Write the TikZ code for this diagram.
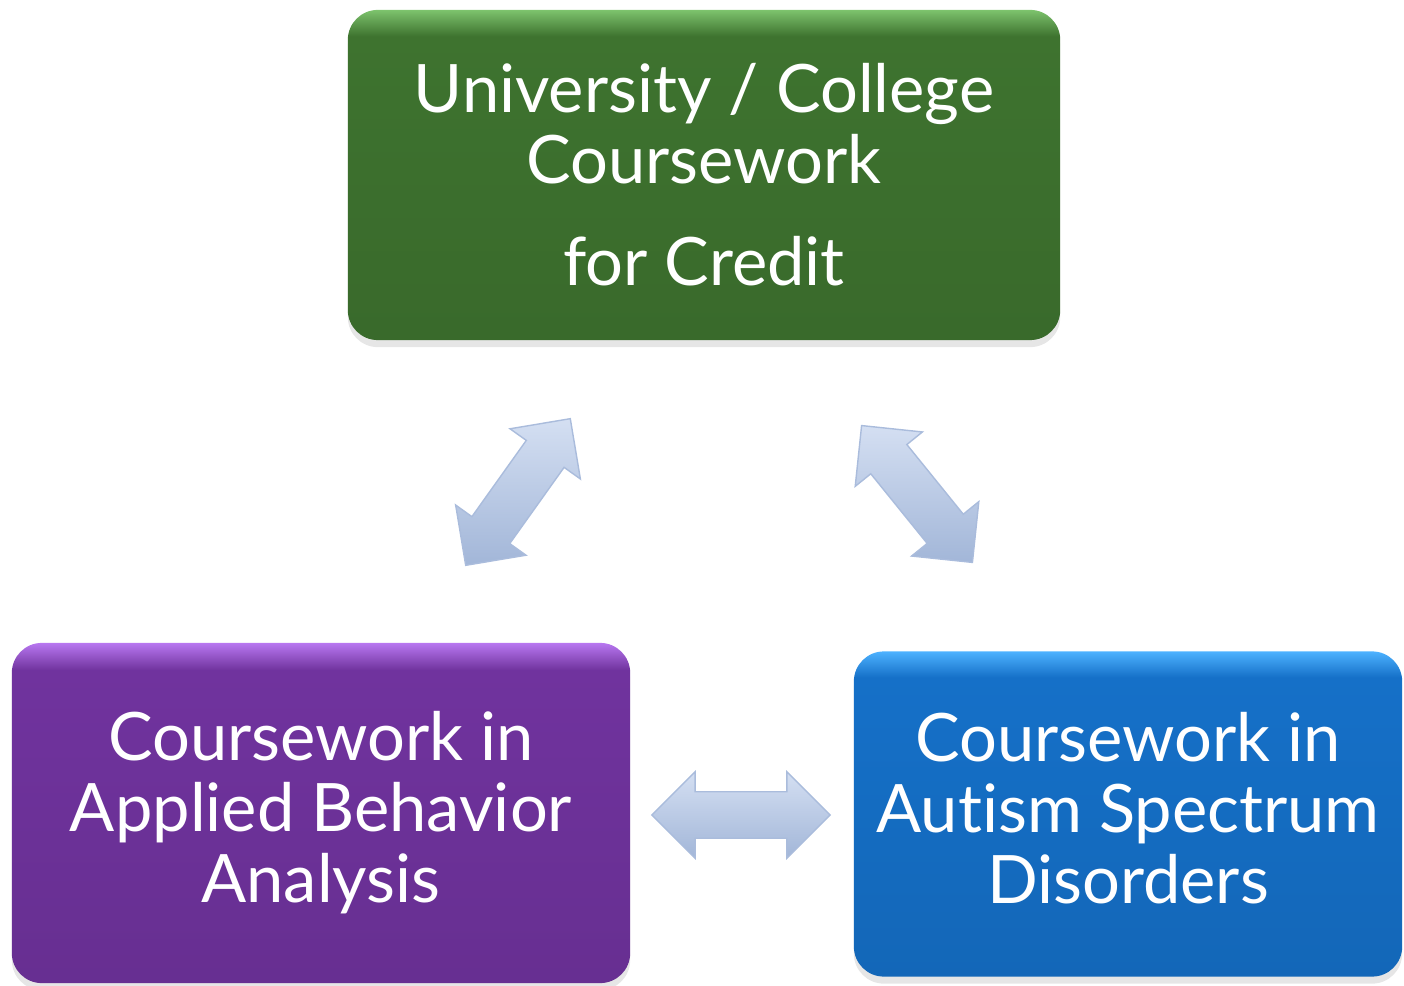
\documentclass[tikz,border=0pt]{standalone}
\usepackage{fontspec}
\setmainfont{Lato}[Ligatures=NoCommon]
\usetikzlibrary{shapes.arrows,shadows}
\definecolor{gmain}{RGB}{62,115,47}
\definecolor{glight}{RGB}{125,195,109}
\definecolor{pmain}{RGB}{112,51,158}
\definecolor{plight}{RGB}{184,119,240}
\definecolor{bmain}{RGB}{21,112,200}
\definecolor{blight}{RGB}{77,178,255}
\definecolor{arrlight}{RGB}{212,223,242}
\definecolor{arrdark}{RGB}{162,182,216}
\definecolor{arredge}{RGB}{170,188,220}
\pgfdeclareverticalshading{greenbox}{100bp}{color(0bp)=(gmain); color(25bp)=(gmain!92!black); color(71bp)=(gmain); color(75bp)=(glight); color(100bp)=(glight)}
\pgfdeclareverticalshading{purplebox}{100bp}{color(0bp)=(pmain); color(25bp)=(pmain!92!black); color(71bp)=(pmain); color(75bp)=(plight); color(100bp)=(plight)}
\pgfdeclareverticalshading{bluebox}{100bp}{color(0bp)=(bmain); color(25bp)=(bmain!92!black); color(71bp)=(bmain); color(75bp)=(blight); color(100bp)=(blight)}
\tikzset{
  box/.style={rectangle, rounded corners=0.3cm, text=white, align=center,
    font=\fontsize{19}{20.2}\selectfont, inner sep=0pt,
    drop shadow={shadow xshift=0pt, shadow yshift=-2pt, opacity=0.2}},
  barrow/.style={double arrow, double arrow head extend=0.2cm, inner xsep=0pt, inner ysep=0.225cm,
    minimum height=#1, draw=arredge, line width=0.4pt,
    top color=arrlight, bottom color=arrdark}
}
\begin{document}
\begin{tikzpicture}[x=0.01cm,y=-0.01cm]
\useasboundingbox (0,0) rectangle (1404,986);
\node[box, shading=greenbox, minimum width=7.12cm, minimum height=3.3cm] (uni) at (704,175)
  {University / College\\Coursework\\[0.31cm]for Credit};
\node[box, shading=purplebox, minimum width=6.18cm, minimum height=3.4cm] (aba) at (321,813)
  {Coursework in\\Applied Behavior\\Analysis};
\node[box, shading=bluebox, minimum width=5.48cm, minimum height=3.25cm] (asd) at (1128,814)
  {Coursework in\\Autism Spectrum\\Disorders\rule[-0.12cm]{0pt}{0pt}};
\node[barrow=1.8cm, rotate=54.5] (a1) at (518,492) {};
\node[barrow=1.76cm, rotate=-51] (a2) at (917,494) {};
\node[barrow=1.78cm] (a3) at (741,815) {};
\end{tikzpicture}
\end{document}
